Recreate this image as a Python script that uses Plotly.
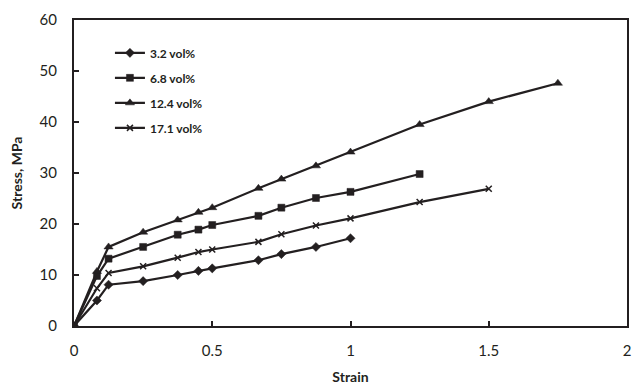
import plotly.graph_objects as go

strain_32 = [0, 0.083, 0.125, 0.25, 0.375, 0.45, 0.5, 0.667, 0.75, 0.875, 1.0]
stress_32 = [0, 5.0, 8.1, 8.8, 10.0, 10.8, 11.3, 12.9, 14.1, 15.5, 17.2]

strain_68 = [0, 0.083, 0.125, 0.25, 0.375, 0.45, 0.5, 0.667, 0.75, 0.875, 1.0, 1.25]
stress_68 = [0, 9.8, 13.2, 15.5, 17.9, 18.9, 19.8, 21.6, 23.2, 25.1, 26.3, 29.8]

strain_124 = [0, 0.083, 0.125, 0.25, 0.375, 0.45, 0.5, 0.667, 0.75, 0.875, 1.0, 1.25, 1.5, 1.75]
stress_124 = [0, 10.7, 15.5, 18.4, 20.8, 22.3, 23.2, 27.0, 28.8, 31.4, 34.1, 39.5, 44.0, 47.6]

strain_171 = [0, 0.083, 0.125, 0.25, 0.375, 0.45, 0.5, 0.667, 0.75, 0.875, 1.0, 1.25, 1.5]
stress_171 = [0, 7.4, 10.4, 11.7, 13.4, 14.5, 15.0, 16.5, 18.0, 19.7, 21.1, 24.3, 26.9]

series = [
    ("3.2 vol%", strain_32, stress_32, "diamond", 7),
    ("6.8 vol%", strain_68, stress_68, "square", 7),
    ("12.4 vol%", strain_124, stress_124, "triangle-up", 8),
    ("17.1 vol%", strain_171, stress_171, "x-thin", 6),
]

INK = "#231f20"
fig = go.Figure()
for i, (name, xs, ys, sym, sz) in enumerate(series):
    fig.add_trace(go.Scatter(
        x=xs, y=ys, name=name, mode="lines+markers",
        legendgroup=f"g{i}",
        line=dict(color=INK, width=2.2),
        marker=dict(symbol=sym, size=sz, color=INK,
                    line=dict(color=INK, width=1.5 if sym == "x-thin" else 0.5)),
    ))

fig.update_layout(
    width=634, height=386,
    margin=dict(l=74, r=3, t=20, b=58),
    paper_bgcolor="white", plot_bgcolor="white",
    font=dict(family="Lato, Open Sans, sans-serif", color=INK, size=15),
    showlegend=True,
    legend=dict(
        x=0.065, y=0.94, xanchor="left", yanchor="top",
        font=dict(size=12, family="Lato, sans-serif", weight="bold"),
        tracegroupgap=6, bgcolor="rgba(0,0,0,0)",
    ),
    xaxis=dict(
        range=[0, 2], tickvals=[0, 0.5, 1, 1.5, 2],
        ticktext=["0", "0.5", "1", "1.5", "2"],
        showgrid=False, zeroline=False, showline=True, mirror=True,
        linecolor=INK, linewidth=2, ticks="inside", ticklen=5,
        tickcolor=INK, tickwidth=2, ticklabelstandoff=10,
        title=dict(text="<b>Strain</b>", standoff=14, font=dict(size=14)),
    ),
    yaxis=dict(
        range=[0, 60], tickvals=[0, 10, 20, 30, 40, 50, 60],
        showgrid=False, zeroline=False, showline=True, mirror=True,
        linecolor=INK, linewidth=2, ticks="inside", ticklen=5,
        tickcolor=INK, tickwidth=2, ticklabelstandoff=12,
        title=dict(text="<b>Stress, MPa</b>", standoff=14, font=dict(size=14)),
    ),
)
fig.write_html("out.html")
